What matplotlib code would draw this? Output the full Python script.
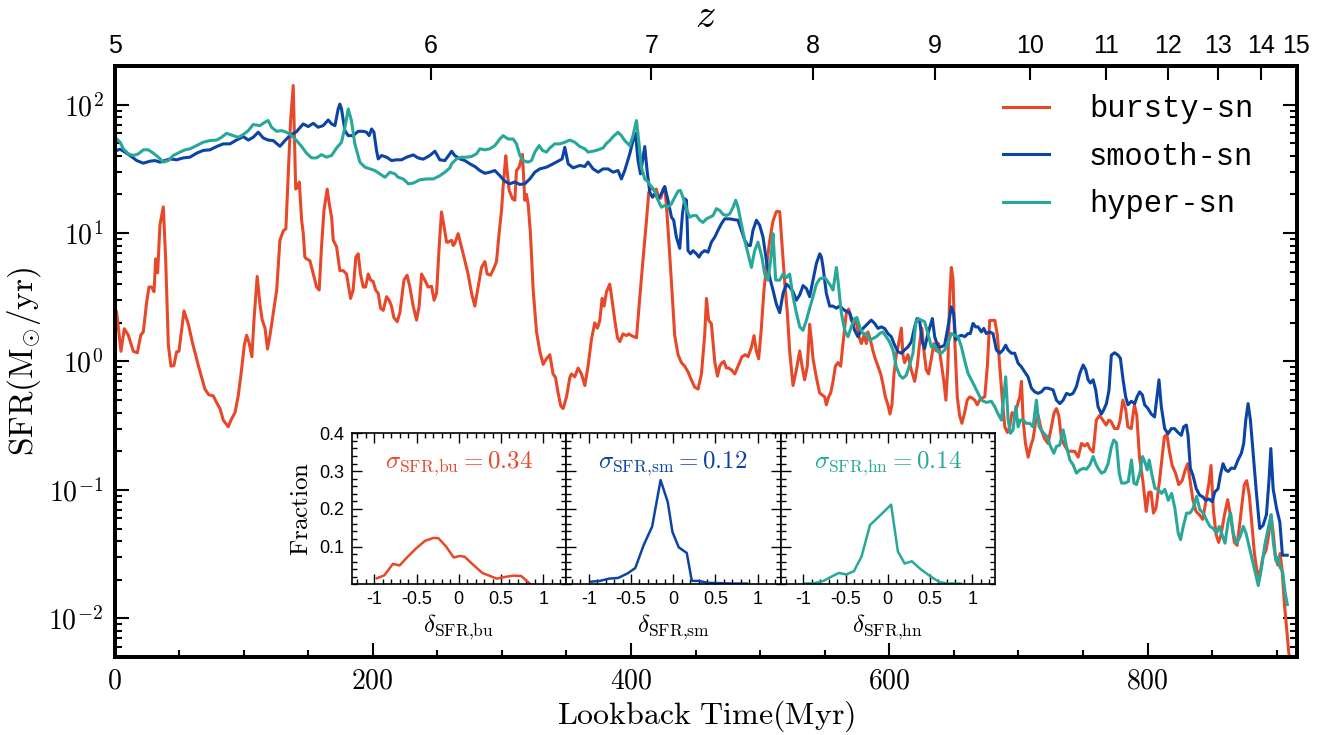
import numpy as np
import matplotlib
matplotlib.use('Agg')
import matplotlib.pyplot as plt
from matplotlib import font_manager
from matplotlib.ticker import MultipleLocator, FixedLocator, FixedFormatter, NullLocator

plt.rcParams.update({
    'font.family': 'serif',
    'font.serif': ['cmr10'],
    'mathtext.fontset': 'cm',
    'axes.formatter.use_mathtext': True,
    'axes.unicode_minus': False,
})

_installed = {f.name for f in font_manager.fontManager.ttflist}
SANS = 'Liberation Sans'
NARROW = 'Liberation Sans Narrow' if 'Liberation Sans Narrow' in _installed else SANS
MONO = 'Liberation Mono'

# star formation histories: (lookback time [Myr], SFR [Msun/yr])
bursty = [
    (0.5, 2.6), (1.7, 2.4), (5, 1.2), (7.6, 1.8), (10.7, 1.6), (14.6, 1.2), (17.7, 1.17), (20.3, 1.6),
    (22.3, 1.7), (24.9, 2.9), (26.7, 3.8), (28.8, 3.8), (30.6, 3.5), (31.9, 6.3), (33.4, 4.9),
    (35.2, 11.6), (37.8, 16), (39.6, 6.3), (41.7, 1.34), (43.7, 0.92), (46, 0.93), (48.1, 1.19),
    (49.9, 1.2), (53.8, 2.48), (57.2, 1.95), (60.5, 1.38), (62.8, 1.13), (64.9, 0.93), (67.5, 0.75),
    (70, 0.61), (73.1, 0.55), (76.5, 0.54), (79, 0.48), (81.7, 0.43), (84.2, 0.35), (88.1, 0.31),
    (90.2, 0.35), (93.3, 0.40), (95.8, 0.54), (98, 0.80), (100.5, 1.34), (102.3, 1.6), (104.4, 1.38),
    (106.4, 1.09), (108, 2.1), (110.5, 4.6), (112.7, 2.75), (114.4, 2.1), (116.5, 1.83), (118.5, 1.25),
    (120.4, 1.6), (123, 2.4), (125.6, 3.6), (128.1, 8.8), (130.7, 10.4), (132.7, 10.8), (134.5, 28),
    (136.3, 73), (138.4, 141), (139.5, 50), (140.3, 22), (141.8, 22.8), (143.1, 25), (144.9, 12.6),
    (146.2, 9.9), (147.4, 6.5), (148.7, 6.3), (151.3, 6.1), (153.9, 4.8), (156.5, 3.8), (158.5, 3.6),
    (160.3, 7.8), (162.2, 15), (164.7, 22), (166.3, 16.9), (168.1, 13.3), (169.4, 8.8), (172, 7.8),
    (174.5, 5.1), (177.1, 5.1), (179.7, 4.8), (182.8, 3.1), (184.8, 3.6), (186.9, 6.5), (188.7, 6.9),
    (190.5, 4.8), (192.6, 3.8), (194.4, 3.8), (196.5, 4.8), (198.3, 4.3), (200.3, 4.2), (202.2, 3.6),
    (204.2, 3.4), (206, 2.6), (208.1, 2.5), (210.7, 3.2), (212.7, 3.0), (214.5, 2.7), (216.3, 2.2),
    (218.9, 2.04), (221, 2.4), (224.1, 4.3), (226.6, 4.7), (228.7, 3.8), (231.3, 2.7), (233.9, 2.1),
    (235.9, 2.7), (237.8, 4.8), (240.3, 4.3), (242.9, 3.8), (245.5, 3.85), (247.5, 3.0), (249.4, 3.4),
    (251.4, 7.8), (253.2, 14.6), (255.3, 11.1), (257.1, 8.5), (258.4, 8.5), (261, 8.8), (262.2, 8.0),
    (263.5, 8.3), (266.1, 9.9), (268.7, 7.8), (271.3, 6.1), (273.8, 4.8), (276.5, 3.4), (279, 2.7),
    (281.6, 3.8), (284.2, 5.4), (286.8, 6.0), (288.6, 4.8), (291.2, 4.7), (293.7, 5.3), (295.8, 6.0),
    (297.8, 9.9), (299.7, 15), (300.9, 22.8), (303, 40), (304, 30.7), (305.6, 21.5), (308.2, 18.5),
    (310, 18), (311.3, 30.7), (313.3, 32.6), (315.9, 41), (317.7, 18), (319, 20), (320.3, 16.9),
    (322.1, 9.9), (324.2, 3.6), (326.8, 1.70), (329.3, 1.21), (331.9, 0.95), (334.5, 1.05),
    (337.1, 1.13), (339.6, 0.80), (341.5, 0.75), (343.5, 0.57), (345.6, 0.45), (347.4, 0.43),
    (350, 0.53), (352.6, 0.75), (353.9, 0.80), (356.4, 0.76), (359, 0.89), (361.6, 0.80), (364.2, 0.65),
    (366.7, 0.92), (369.3, 1.48), (371.9, 2.0), (374, 1.82), (375.8, 2.09), (377.6, 3.1), (379.1, 2.7),
    (381, 3.5), (383.5, 4.0), (385.3, 3.0), (387.4, 2.09), (389.5, 1.53), (391.3, 1.43), (393.8, 1.64),
    (396.4, 1.59), (398.2, 1.64), (400.3, 1.59), (404.2, 1.53), (406.7, 3.1), (409.3, 6.3),
    (411.9, 12.4), (413.7, 20.7), (415.8, 23), (417.8, 21.4), (419.6, 22), (421.4, 18.7), (423, 18.7),
    (424.8, 22), (426.1, 23), (427.4, 16.3), (429.2, 8.8), (431.3, 4.1), (433.8, 1.59), (436.4, 1.13),
    (439, 0.98), (441.6, 0.92), (444.1, 0.83), (446.7, 0.72), (449.3, 0.63), (451.9, 0.61),
    (454.5, 0.80), (457, 1.59), (458.4, 3.1), (460.1, 2.09), (462.2, 1.97), (464.8, 1.0),
    (466.9, 0.77), (468.7, 0.92), (470.5, 0.98), (472, 1.0), (473.8, 0.89), (475.6, 0.89),
    (477.7, 0.86), (480.3, 0.80), (482.8, 0.92), (485.9, 1.09), (488.5, 1.13), (490.6, 1.09),
    (493.2, 1.29), (495.2, 1.59), (497, 1.21), (498.8, 1.05), (500.9, 1.82), (502.9, 3.6), (504.8, 5.4),
    (507.4, 8.8), (509.9, 12.4), (512.5, 14.7), (515.1, 14.7), (516.9, 8.2), (519, 4.1), (521, 2.4),
    (522.8, 1.21), (525.4, 0.65), (528, 0.86), (530.6, 1.21), (532.4, 0.92), (534.4, 0.72),
    (536.5, 0.92), (538.3, 1.95), (539.6, 1.48), (540.9, 1.05), (543.5, 0.75), (546, 0.57),
    (547.8, 0.55), (549.9, 0.53), (551.2, 0.46), (553, 0.53), (554.6, 0.57), (556.4, 0.70),
    (558.2, 0.92), (560.2, 0.98), (562.3, 0.92), (564.1, 1.38), (566.7, 2.4), (568.5, 2.56),
    (570.6, 2.09), (572.6, 1.95), (574.4, 2.09), (576.2, 1.59), (578.3, 1.38), (580.3, 1.59),
    (582.2, 1.38), (583.4, 1.70), (585.3, 1.48), (587.3, 1.21), (589.1, 1.05), (591.2, 0.92),
    (593.3, 0.80), (595, 0.67), (596.9, 0.53), (598.9, 0.46), (600.5, 0.39), (602, 0.46), (603.6, 0.80),
    (605.4, 1.13), (607.2, 1.38), (609.3, 1.82), (610.5, 1.13), (611.8, 0.98), (614.4, 1.13),
    (617, 0.86), (619.6, 0.70), (621.6, 0.92), (623.4, 1.38), (625.2, 1.82), (626.8, 1.21),
    (628.6, 0.86), (630.4, 0.80), (632.5, 1.05), (634.5, 1.38), (636.3, 1.21), (638.1, 1.38),
    (640.2, 0.98), (642.2, 0.70), (643.8, 0.50), (645.3, 0.92), (646.7, 3.1), (648, 5.4), (649.3, 4.4),
    (650.5, 1.59), (652.6, 0.53), (654.4, 0.38), (656.2, 0.33), (658.3, 0.40), (660.3, 0.50),
    (662.2, 0.53), (664, 0.52), (666.1, 0.50), (668.1, 0.46), (669.9, 0.50), (671.8, 0.52),
    (673.9, 0.53), (675.9, 0.92), (677.7, 2.09), (679.5, 2.09), (681.7, 2.09), (683.7, 1.59),
    (685.5, 0.92), (687.3, 0.53), (689.4, 0.31), (691.4, 0.28), (693.2, 0.31), (695, 0.40),
    (697.2, 0.38), (699.2, 0.46), (701, 0.53), (702.3, 0.70), (703.6, 0.35), (705.4, 0.23),
    (707.5, 0.18), (709.5, 0.22), (711.3, 0.25), (713.1, 0.33), (715.2, 0.38), (717.8, 0.29),
    (720.3, 0.25), (722.9, 0.23), (725.5, 0.31), (727.6, 0.40), (729.4, 0.43), (731.2, 0.38),
    (733.3, 0.25), (735.9, 0.22), (738.4, 0.20), (741, 0.20), (743.6, 0.20), (746.2, 0.18),
    (748.8, 0.23), (751.3, 0.22), (753.4, 0.23), (755.2, 0.21), (757.8, 0.197), (760.3, 0.35),
    (762.8, 0.38), (765.3, 0.35), (767.9, 0.32), (770, 0.35), (771.8, 0.34), (774.4, 0.30),
    (776.9, 0.30), (778.7, 0.35), (780.8, 0.50), (782.9, 0.43), (784.7, 0.31), (787.3, 0.30),
    (789.8, 0.46), (791.6, 0.38), (793.7, 0.18), (796.3, 0.118), (798.9, 0.068), (800.9, 0.096),
    (802.7, 0.096), (804.5, 0.066), (806.6, 0.073), (809.2, 0.118), (811.2, 0.18), (813, 0.26),
    (814.9, 0.27), (816.9, 0.20), (819, 0.155), (821.6, 0.135), (824.1, 0.11), (826.7, 0.118),
    (829.3, 0.145), (831.1, 0.16), (832.9, 0.118), (835, 0.084), (837.5, 0.068), (840.1, 0.064),
    (842.7, 0.059), (845.3, 0.084), (847.3, 0.11), (849.1, 0.155), (850.9, 0.070), (853, 0.045),
    (855, 0.039), (856.9, 0.045), (859.5, 0.064), (862, 0.084), (864.6, 0.059), (867.2, 0.039),
    (869.3, 0.037), (871.1, 0.052), (873.1, 0.078), (874.9, 0.11), (876.7, 0.118), (878.8, 0.090),
    (880.9, 0.052), (882.7, 0.032), (884.5, 0.024), (886.6, 0.021), (889.2, 0.030), (891.7, 0.034),
    (893.8, 0.045), (895.6, 0.064), (897.4, 0.045), (899, 0.030), (900.8, 0.026), (902.6, 0.032),
    (904.1, 0.024), (905.9, 0.013), (907.7, 0.0082), (909.8, 0.0048), (911.5, 0.003),
]

smooth = [
    (0.5, 43), (1.7, 44), (4.3, 45), (8.1, 42.7), (12, 40.2), (17.2, 36.7), (22.3, 35), (27.5, 36.3),
    (31.3, 36.7), (35.2, 35.7), (39.1, 36.7), (43, 37.8), (48.1, 37.2), (53.3, 38.5), (58.4, 39),
    (63.6, 41.9), (68.7, 44), (73.9, 44.5), (79.1, 47.2), (84.2, 49.5), (89.4, 49.5), (94.6, 53.1),
    (99.7, 56.4), (103.6, 53), (107.4, 55.7), (111.3, 61), (115.2, 55), (119, 53), (122.9, 52.5),
    (128.1, 47.4), (132, 52.5), (135.8, 57.4), (141, 61.7), (146.1, 70.8), (150, 67.5), (153.9, 71.6),
    (157.7, 66.7), (161.6, 68.7), (165.5, 76), (168.1, 70.8), (170.7, 68.7), (173.2, 92.5),
    (174.5, 101), (175.8, 92.5), (178.4, 62.8), (181, 57.4), (184.8, 57.4), (188.7, 62), (192.6, 62),
    (195.2, 61), (197.2, 57.4), (199.1, 64.7), (200.9, 61), (202.9, 44), (204.2, 37.8), (206.8, 40.2),
    (210.7, 39), (214.5, 36.7), (218.4, 37.2), (222.3, 37.2), (226.2, 39), (231.3, 40.6),
    (235.1, 38.5), (239, 37.6), (244.2, 40.2), (248.1, 43.4), (251.9, 37.2), (255.8, 36.7),
    (259.7, 41.4), (261, 43.4), (263.5, 40.2), (267.4, 37.8), (271.3, 36.7), (275.2, 34.6), (279, 33),
    (282.9, 30.7), (286.8, 29.2), (290.6, 29.8), (294.5, 30.7), (298.4, 28), (302.2, 25.3),
    (306.1, 24.2), (310, 25), (313.9, 23.9), (317.7, 24.2), (321.6, 26.4), (325.5, 29.8),
    (329.3, 31.6), (334.5, 32.6), (339.6, 34.6), (343.5, 36.3), (346.6, 37.8), (348.7, 46.5),
    (351.3, 34.6), (355.1, 32.2), (360.3, 33.6), (364.2, 33), (366.7, 35.7), (370.6, 31.6),
    (374.5, 29.8), (378.3, 31.6), (382.2, 31.6), (386.1, 29.8), (389.9, 30.7), (392.5, 26.4),
    (395.1, 30.7), (399, 41.4), (401.5, 52.5), (403.4, 59.8), (405.4, 36.7), (407.3, 28.9), (409.3, 39),
    (410.6, 47.2), (412.4, 30.7), (414.5, 20.8), (416.6, 19), (418.3, 20.2), (420.9, 18.5),
    (423.5, 20.2), (426.1, 23), (428.6, 18), (431.3, 13.3), (433, 12.6), (435.1, 9.3), (437.7, 7.6),
    (439.8, 14.1), (441.6, 18.5), (442.9, 18), (444.1, 7.3), (446, 6.9), (448, 7.3), (450.6, 6.9),
    (452.6, 6.5), (454.5, 7.0), (457, 7.3), (459.6, 7.1), (462.2, 8.5), (464.8, 9.3), (467.3, 10.5),
    (469.9, 11.8), (472.5, 12.9), (476.4, 12.9), (480.3, 12.7), (482.8, 12.6), (485.4, 10.5),
    (488, 8.8), (490.6, 8.0), (492.4, 8.0), (494.4, 10.5), (497.1, 12.6), (499.6, 11.5), (502.2, 9.3),
    (504.8, 6.1), (507.4, 4.5), (509.9, 3.6), (512.5, 2.8), (515.1, 2.4), (517.7, 3.4), (520.3, 4.0),
    (522.8, 3.8), (525.4, 3.5), (528, 3.0), (530.6, 3.3), (533.2, 3.9), (535.8, 3.7), (538.3, 3.2),
    (540.9, 4.3), (543.5, 5.8), (546.1, 6.9), (547.4, 6.5), (548.7, 5.4), (551.2, 3.4), (553.8, 2.7),
    (556.4, 2.7), (559, 2.6), (561.5, 2.7), (565.4, 2.5), (569.3, 2.4), (570.5, 2.2), (573.1, 1.75),
    (575.7, 1.56), (578.2, 1.75), (580.8, 1.86), (583.4, 1.98), (586, 2.1), (588.6, 1.98),
    (591.2, 1.81), (593.8, 1.86), (596.3, 1.81), (598.9, 1.65), (601.5, 1.56), (604.1, 1.34),
    (606.7, 1.19), (609.3, 1.16), (611.8, 1.23), (614.4, 1.30), (617, 1.42), (619.6, 1.86),
    (621.4, 2.16), (623.4, 2.1), (625.5, 1.42), (627.3, 1.26), (629.9, 1.65), (633.3, 2.16),
    (635.1, 1.56), (637.7, 1.30), (640.2, 1.30), (642.8, 1.34), (645.4, 1.86), (648, 2.66),
    (649.8, 2.36), (651.4, 1.47), (653.2, 1.56), (655.8, 1.60), (658.4, 1.56), (660.9, 1.65),
    (662.7, 1.65), (664.8, 1.98), (666.9, 1.86), (668.7, 1.86), (671.3, 1.70), (673.1, 1.81),
    (675.1, 1.65), (677.7, 1.70), (680.3, 1.65), (682.9, 1.23), (685.5, 1.16), (688, 1.23),
    (690.1, 1.34), (691.9, 1.23), (694.5, 1.16), (697.1, 1.16), (699.7, 0.97), (702.2, 0.91),
    (704.8, 0.83), (707.4, 0.76), (710, 0.62), (712.6, 0.58), (715.2, 0.565), (717.7, 0.58),
    (720.3, 0.62), (722.9, 0.62), (726.8, 0.60), (729.4, 0.50), (732, 0.47), (734.6, 0.50),
    (737.2, 0.565), (739.8, 0.55), (742.3, 0.565), (744.9, 0.64), (747.5, 0.81), (750.1, 0.94),
    (752.1, 0.86), (753.9, 0.72), (755.7, 0.68), (757.8, 0.72), (759.8, 0.60), (761.6, 0.445),
    (764.2, 0.39), (766, 0.42), (768.1, 0.47), (770.1, 0.60), (771.9, 1.12), (774.5, 1.17),
    (777.1, 1.12), (778.9, 1.06), (781, 0.72), (783, 0.53), (784.8, 0.46), (787.4, 0.49), (790, 0.47),
    (791.8, 0.53), (793.8, 0.58), (795.9, 0.55), (797.7, 0.46), (800.3, 0.43), (802.8, 0.39),
    (805.4, 0.37), (807.2, 0.53), (808.8, 0.72), (810.6, 0.445), (813.2, 0.30), (815.8, 0.274),
    (818.3, 0.30), (820.9, 0.30), (823.5, 0.28), (826.1, 0.266), (827.9, 0.31), (830, 0.32),
    (831.3, 0.266), (833.1, 0.147), (835.1, 0.13), (837.7, 0.102), (840.3, 0.091), (842.9, 0.088),
    (845, 0.083), (847.5, 0.085), (850.1, 0.081), (851.9, 0.096), (854.5, 0.102), (856.3, 0.13),
    (858.4, 0.16), (860.5, 0.143), (862.3, 0.139), (864.8, 0.148), (867.4, 0.147), (870, 0.171),
    (872.6, 0.193), (874.4, 0.23), (876, 0.35), (877.8, 0.47), (879.6, 0.35), (881.7, 0.193),
    (884.2, 0.096), (886.8, 0.05), (889.4, 0.053), (892, 0.064), (894.1, 0.123), (895.4, 0.21),
    (897.2, 0.102), (899.8, 0.072), (902.4, 0.056), (904.4, 0.031), (906.2, 0.031), (908.1, 0.031),
]

hyper = [
    (0.5, 55), (1.7, 54), (4.3, 51), (6.9, 45.3), (10.7, 41.4), (14.6, 40.2), (18.5, 41.4),
    (22.3, 44.5), (26.2, 44.5), (30.1, 41.9), (33.9, 39), (37.8, 35.7), (41.7, 36.7), (45.5, 40.2),
    (50.7, 42.7), (54.6, 44.5), (58.4, 45.3), (63.6, 48), (68.7, 51), (73.9, 52.5), (79.1, 53),
    (82.9, 55.7), (86.8, 59.8), (92, 57.4), (95.8, 55.7), (99.7, 58.5), (103.6, 62.8), (107.4, 70),
    (112.6, 68.7), (116.5, 73), (119, 75.2), (121.6, 66.7), (125.5, 62), (129.4, 62.8), (133.2, 61),
    (137.1, 57.4), (141, 52.5), (144.9, 47.2), (148.7, 41.9), (152.6, 38.5), (156.5, 38.5),
    (160.3, 40.8), (164.2, 39), (168.1, 40.2), (172, 46), (175.8, 51), (178.4, 66.7), (181, 92.5),
    (183.5, 75), (186.1, 49.5), (190, 35.7), (193.9, 32.6), (197.8, 31.6), (201.6, 30.7),
    (205.5, 28.9), (209.4, 27.2), (213.3, 29.8), (217.1, 28.9), (219.7, 27.2), (223.6, 26.4),
    (227.5, 24.2), (231.3, 24.5), (236.5, 26), (241.7, 26.4), (246.9, 26.4), (252, 28), (255.9, 29.8),
    (259.7, 32.2), (261, 34.6), (264.8, 37.8), (268.7, 39), (272.6, 39), (276.5, 39.5), (280.3, 41.4),
    (282.9, 45.3), (286.8, 44.5), (290.6, 45.3), (294.5, 48), (298.4, 54), (300.9, 57.4), (304.8, 54),
    (308.7, 54), (311.3, 49.5), (313.9, 40.2), (316.4, 36.7), (320.3, 35.7), (322.9, 36.7),
    (325.5, 42.7), (328.8, 48), (331.4, 44), (334.5, 42.7), (337.1, 46), (340.9, 49.5), (344.8, 49.5),
    (348.7, 51), (352.6, 53), (356.4, 51), (360.3, 47.2), (364.2, 45.3), (366.7, 42.7), (370.6, 43.4),
    (374.5, 44.5), (378.3, 46), (381, 50), (383.5, 52.5), (386.1, 56.4), (389.9, 61), (392.5, 57.4),
    (395.1, 52.5), (399, 48), (401.5, 57.4), (404.2, 75.2), (406.2, 49.5), (408, 32.6), (410.6, 26.4),
    (413.2, 25), (415.8, 22.8), (418.3, 21.5), (420.9, 18), (423.5, 15.9), (426.1, 16.4),
    (428.6, 15.9), (431.3, 16.9), (433.8, 19), (436.4, 21.2), (438.2, 21.5), (440.2, 19),
    (442.9, 15.5), (445.4, 13.3), (448, 13.7), (450.6, 13.7), (453.2, 12.6), (455.7, 12.1),
    (458.4, 12.9), (460.9, 13.3), (463.5, 13.7), (466.1, 15.5), (468.7, 15), (471.2, 14), (473.8, 13.7),
    (476.4, 14.1), (479, 15.9), (481, 18), (482.8, 15.9), (485.4, 11.8), (488, 8.8), (490.6, 6.9),
    (493.2, 5.4), (495.7, 7.3), (498.3, 8.5), (501.3, 6.5), (503.5, 4.8), (506.1, 4.3), (508.7, 6.9),
    (509.9, 9.9), (512, 4.3), (515.1, 4.3), (517.7, 4.8), (520.3, 4.5), (522.8, 4.8), (525.4, 3.2),
    (528, 2.4), (530.6, 1.86), (533.2, 1.75), (535.8, 2.1), (538.3, 2.6), (540.9, 3.2), (543.5, 4.0),
    (546.1, 4.4), (550, 4.5), (553.8, 4.0), (556.4, 3.6), (559, 5.4), (560.2, 4.3), (562.8, 2.4),
    (565.4, 1.75), (568, 1.56), (570.5, 1.86), (573.1, 2.16), (574.9, 2.2), (577, 1.86), (579.5, 1.65),
    (582.1, 1.65), (584.7, 1.47), (587.3, 1.51), (589.9, 1.56), (592.5, 1.65), (595, 1.70),
    (597.6, 1.56), (600.2, 1.42), (602.8, 1.23), (605.4, 0.91), (608, 0.78), (610.5, 0.74),
    (613.1, 0.78), (615.7, 0.94), (618.3, 1.16), (620.4, 1.98), (622.2, 2.16), (624.8, 2.1),
    (627.3, 2.04), (629.9, 1.65), (632.5, 1.30), (635.1, 1.34), (637.7, 1.19), (640.2, 1.16),
    (642.8, 1.23), (645.4, 1.38), (648, 1.65), (650.6, 1.60), (653.2, 1.56), (655.8, 1.30),
    (658.4, 1.01), (660.9, 0.81), (663.5, 0.72), (666.1, 0.64), (668.7, 0.565), (671.3, 0.50),
    (675.1, 0.48), (679, 0.49), (681.6, 0.445), (684.2, 0.39), (686.8, 0.35), (688.6, 0.53),
    (690.1, 0.76), (692, 0.35), (693.8, 0.276), (695.8, 0.293), (697.9, 0.445), (699.7, 0.31),
    (701.5, 0.35), (703.6, 0.35), (706.2, 0.33), (708.7, 0.33), (711.3, 0.31), (713.9, 0.50),
    (716, 0.31), (717.8, 0.293), (719.6, 0.276), (722.2, 0.26), (724.8, 0.218), (727.4, 0.193),
    (729.4, 0.218), (732, 0.224), (734.6, 0.293), (737.2, 0.218), (739.8, 0.171), (742.3, 0.157),
    (744.9, 0.135), (747.5, 0.143), (750.1, 0.147), (752.7, 0.145), (755.3, 0.157), (757.8, 0.182),
    (759.9, 0.16), (761.7, 0.147), (764.3, 0.135), (766.8, 0.139), (769.4, 0.16), (772, 0.218),
    (773.8, 0.245), (775.9, 0.232), (778, 0.135), (779.8, 0.113), (782.4, 0.113), (785, 0.116),
    (787.5, 0.171), (789.4, 0.113), (791.4, 0.11), (794, 0.135), (796.1, 0.182), (797.9, 0.165),
    (799.7, 0.143), (801.2, 0.171), (803.1, 0.135), (805.6, 0.103), (808.2, 0.101), (810.8, 0.094),
    (813.4, 0.101), (816, 0.083), (818.6, 0.094), (821.1, 0.072), (823.7, 0.046), (825.5, 0.041),
    (827.6, 0.052), (830.2, 0.066), (832.8, 0.066), (835.3, 0.072), (837.9, 0.089), (840.5, 0.070),
    (843.1, 0.066), (845.7, 0.058), (848.3, 0.052), (850.9, 0.050), (853.4, 0.046), (855.5, 0.052),
    (857.3, 0.046), (859.9, 0.0385), (862.5, 0.058), (864.3, 0.066), (866.3, 0.046), (868.9, 0.0385),
    (871.5, 0.043), (874.1, 0.052), (876.2, 0.046), (878, 0.0385), (880.6, 0.030), (883.2, 0.023),
    (885.7, 0.018), (888.3, 0.025), (890.9, 0.038), (893.5, 0.051), (895.6, 0.064), (897.4, 0.0385),
    (899.4, 0.028), (901.2, 0.030), (902.5, 0.025), (904.6, 0.023), (906.4, 0.016), (908.2, 0.0128),
]

# distributions of SFR deviations
delta_bu = [-0.97, -0.88, -0.78, -0.70, -0.60, -0.50, -0.40, -0.30, -0.24, -0.15, -0.06, 0.01, 0.07,
            0.17, 0.28, 0.45, 0.56, 0.65, 0.74, 0.85]
frac_bu = [0.016, 0.024, 0.054, 0.050, 0.074, 0.096, 0.115, 0.123, 0.122, 0.100, 0.071, 0.075, 0.073,
           0.052, 0.030, 0.015, 0.020, 0.023, 0.022, 0.0]
delta_sm = [-0.97, -0.87, -0.76, -0.65, -0.54, -0.45, -0.35, -0.25, -0.15, -0.065, -0.01, 0.065, 0.16,
            0.22, 0.30, 0.41, 0.545, 0.71, 0.87]
frac_sm = [0.007, 0.009, 0.015, 0.017, 0.029, 0.043, 0.104, 0.153, 0.276, 0.218, 0.139, 0.098, 0.083,
           0.009, 0.009, 0.004, 0.003, 0.002, 0.002]
delta_hn = [-0.975, -0.87, -0.76, -0.67, -0.58, -0.49, -0.40, -0.31, -0.21, -0.13, -0.07, 0.04, 0.12,
            0.20, 0.285, 0.395, 0.50, 0.61, 0.72, 0.86]
frac_hn = [0.002, 0.003, 0.009, 0.020, 0.030, 0.026, 0.035, 0.074, 0.157, 0.174, 0.187, 0.211, 0.087,
           0.055, 0.061, 0.039, 0.022, 0.006, 0.002, 0.002]
sigmas = [0.34, 0.12, 0.14]
tags = ['bu', 'sm', 'hn']
labels = ['bursty-sn', 'smooth-sn', 'hyper-sn']
colors = ['#e8482a', '#0c44a6', '#28a898']
z_ticks = [5, 6, 7, 8, 9, 10, 11, 12, 13, 14, 15]

# flat LCDM cosmology for the redshift axis
H0, Om = 68.0, 0.3


def cosmic_age(z):
    t_hubble = 977.8 / H0 * 1000.0  # Myr
    ol = 1.0 - Om
    return 2.0 / 3.0 * t_hubble / np.sqrt(ol) * np.arcsinh(np.sqrt(ol / Om) * (1.0 + np.asarray(z, float)) ** -1.5)


def lookback(z):
    return cosmic_age(5) - cosmic_age(z)


W, H = 1331, 735
fig = plt.figure(figsize=(W / 100, H / 100), dpi=100)
ax = fig.add_axes([114.5 / W, 1 - 657 / H, 1182 / W, 591 / H])

for series, lab, c in zip([bursty, smooth, hyper], labels, colors):
    t, sfr = np.array(series).T
    ax.plot(t, sfr, color=c, lw=2.2, label=lab)

ax.set_yscale('log')
ax.set_xlim(0, float(lookback(15)))
ax.set_ylim(5e-3, 2e2)
ax.xaxis.set_major_locator(MultipleLocator(200))
ax.xaxis.set_minor_locator(MultipleLocator(50))
ax.tick_params(which='both', direction='in', right=True, top=False, width=1.5, labelsize=20, pad=8)
ax.tick_params(which='major', length=10)
ax.tick_params(which='minor', length=5)
for s in ax.spines.values():
    s.set_linewidth(2.8)
ax.set_xlabel(r'$\mathrm{Lookback\ Time(Myr)}$', fontsize=23, labelpad=3)
ax.set_ylabel(r'$\mathrm{SFR(M_{\odot}/yr)}$', fontsize=24, labelpad=4)

ax.legend(loc='upper left', bbox_to_anchor=(0.752, 0.952), frameon=False,
          prop={'family': MONO, 'size': 22}, handlelength=1.5, handletextpad=1.3,
          labelspacing=0.57, borderaxespad=0, borderpad=0)

# redshift axis on top
axz = ax.twiny()
axz.set_xlim(ax.get_xlim())
axz.xaxis.set_major_locator(FixedLocator(lookback(z_ticks)))
axz.xaxis.set_major_formatter(FixedFormatter([str(z) for z in z_ticks]))
axz.xaxis.set_minor_locator(NullLocator())
axz.tick_params(axis='x', direction='in', length=10, width=1.5, pad=6)
for lbl in axz.get_xticklabels():
    lbl.set_fontfamily(NARROW)
    lbl.set_fontsize(18)
for s in axz.spines.values():
    s.set_linewidth(2.8)
axz.set_xlabel(r'$z$', fontsize=29, labelpad=5)

# inset histograms
x_in0, w_in = 351.5 / W, 214.5 / W
y_in0, h_in = 1 - 584.3 / H, 151 / H
for i, (dx, fr) in enumerate([(delta_bu, frac_bu), (delta_sm, frac_sm), (delta_hn, frac_hn)]):
    axi = fig.add_axes([x_in0 + i * w_in, y_in0, w_in, h_in])
    axi.plot(dx, fr, color=colors[i], lw=1.8)
    axi.set_xlim(-1.27, 1.27)
    axi.set_ylim(0, 0.4)
    axi.xaxis.set_major_locator(FixedLocator([-1, -0.5, 0, 0.5, 1]))
    axi.xaxis.set_major_formatter(FixedFormatter(['-1', '-0.5', '0', '0.5', '1']))
    axi.xaxis.set_minor_locator(MultipleLocator(0.1))
    axi.yaxis.set_major_locator(FixedLocator([0.1, 0.2, 0.3, 0.4]))
    axi.yaxis.set_minor_locator(MultipleLocator(0.02))
    if i == 0:
        axi.yaxis.set_major_formatter(FixedFormatter(['0.1', '0.2', '0.3', '0.4']))
        axi.set_ylabel(r'$\mathrm{Fraction}$', fontsize=18, labelpad=5)
    else:
        axi.set_yticklabels([])
    axi.tick_params(which='both', direction='in', top=True, right=True, width=1.0, labelsize=13, pad=5)
    axi.tick_params(which='major', length=7)
    axi.tick_params(which='minor', length=3.5)
    for lbl in axi.get_xticklabels() + axi.get_yticklabels():
        lbl.set_fontfamily(SANS)
    for s in axi.spines.values():
        s.set_linewidth(1.2)
    axi.set_xlabel(r'$\delta_{\rm SFR{,}%s}$' % tags[i], fontsize=18, labelpad=3)
    axi.text(0.5, 0.8, r'$\sigma_{\rm SFR{,}%s} = %.2f$' % (tags[i], sigmas[i]), color=colors[i],
             fontsize=18, ha='center', va='center', transform=axi.transAxes)

fig.savefig('out.png', dpi=100)
